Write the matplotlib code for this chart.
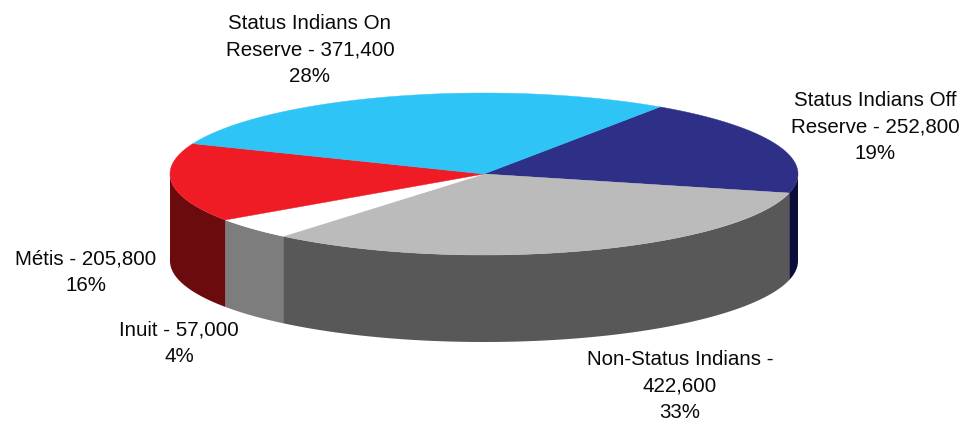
import numpy as np
import matplotlib
matplotlib.use("Agg")
import matplotlib.pyplot as plt
from matplotlib.patches import Polygon

plt.rcParams["font.family"] = ["Liberation Sans", "DejaVu Sans"]

# clockwise from the Status On / Off boundary
names = ["Status Indians Off", "Non-Status Indians", "Inuit", "Métis", "Status Indians On"]
values = [252800, 422600, 57000, 205800, 371400]
top_colors = ["#2E3088", "#BBBBBB", "#FFFFFF", "#EF1C25", "#2EC4F6"]
side_colors = ["#0B0E38", "#585858", "#7D7D7D", "#6C0B0D", "#1B7FA5"]

labels = [
    "Status Indians Off\nReserve - 252,800\n19%",
    "Non-Status Indians -\n422,600\n33%",
    "Inuit - 57,000\n4%",
    "Métis - 205,800\n16%",
    "Status Indians On\nReserve - 371,400\n28%",
]
# label centres in pixels
label_pos = [(875, 127), (680, 386), (179, 343), (86, 272), (310, 50)]

# pie geometry in pixels
CX, CY = 484, 174
RX, RY = 314, 81
DEPTH = 87
START = 55.9

fig = plt.figure(figsize=(9.66, 4.21), dpi=100)
ax = fig.add_axes([0, 0, 1, 1])
ax.set_xlim(0, 966)
ax.set_ylim(421, 0)
ax.axis("off")


def rim(a0, a1):
    t = np.radians(np.linspace(a0, a1, max(int(abs(a1 - a0) * 2), 2)))
    return CX + RX * np.cos(t), CY - RY * np.sin(t)


fractions = np.array(values) / sum(values)
edges = START - np.concatenate([[0], np.cumsum(fractions)]) * 360

# sides first, only the part of the rim facing the viewer
for i in range(len(values)):
    a0, a1 = edges[i], edges[i + 1]
    for lo, hi in [(-180, 0), (-540, -360)]:
        s0, s1 = min(a0, hi), max(a1, lo)
        if s0 <= s1:
            continue
        x, y = rim(s0, s1)
        pts = np.column_stack([np.r_[x, x[::-1]], np.r_[y, y[::-1] + DEPTH]])
        ax.add_patch(Polygon(pts, closed=True, fc=side_colors[i], ec="none", zorder=2))

# top face
for i in range(len(values)):
    x, y = rim(edges[i], edges[i + 1])
    pts = np.column_stack([np.r_[CX, x], np.r_[CY, y]])
    ax.add_patch(Polygon(pts, closed=True, fc=top_colors[i], ec=top_colors[i], lw=0.3, zorder=3))

for text, (px, py) in zip(labels, label_pos):
    ax.text(px, py, text, ha="center", va="center", fontsize=14.8, color="#0A0A0A",
            linespacing=1.52, zorder=4)

fig.savefig("out.png", dpi=100)
